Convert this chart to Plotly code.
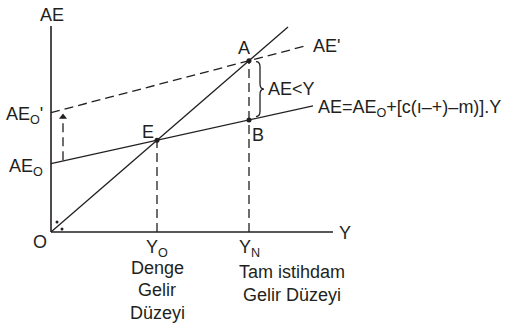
import plotly.graph_objects as go

# ---- data (model units; 45-degree line is AE = Y) ----
Y_O = 53.0          # equilibrium income
Y_N = 99.0          # full-employment income
AE0 = 39.5          # autonomous expenditure
AE0_new = 69.0      # shifted autonomous expenditure
slope_AE = 0.255
slope_AE_new = 0.303
x_end_AE = 131.0
x_end_AE_new = 128.5
x_end_45 = 118.5
x_axis_end = 141.0
y_axis_end = 119.0

# lines defined by their end points
line45_x = [0, x_end_45]
line45_y = [0, x_end_45]
lineAE_x = [0, x_end_AE]
lineAE_y = [AE0, AE0 + slope_AE * x_end_AE]
lineAEn_x = [0, x_end_AE_new]
lineAEn_y = [AE0_new, AE0_new + slope_AE_new * x_end_AE_new]

E_pt = (Y_O, AE0 + slope_AE * Y_O)
A_pt = (Y_N, AE0_new + slope_AE_new * Y_N)
B_pt = (Y_N, AE0 + slope_AE * Y_N)

INK = "#231f20"
FONT = dict(family="Liberation Sans, Arial, sans-serif", size=18, color=INK)
DASH = "9px,5px"

fig = go.Figure()

def line(xs, ys, dash="solid", width=1.3):
    fig.add_trace(go.Scatter(x=xs, y=ys, mode="lines",
                             line=dict(color=INK, width=width, dash=dash),
                             hoverinfo="skip", showlegend=False))

# axes
line([0, 0], [0, y_axis_end], width=1.6)
line([0, x_axis_end], [0, 0], width=1.6)
# curves
line(line45_x, line45_y)
line(lineAE_x, lineAE_y)
line(lineAEn_x, lineAEn_y, dash=DASH)
# vertical guides
line([Y_O, Y_O], [0, E_pt[1]], dash=DASH)
line([Y_N, Y_N], [0, A_pt[1]], dash=DASH)
# shift arrow
arrow_x = 6.0
line([arrow_x, arrow_x], [AE0 + 2.0, AE0_new - 3.0], dash=DASH)
fig.add_trace(go.Scatter(x=[arrow_x], y=[AE0_new - 2.5], mode="markers",
                         marker=dict(symbol="triangle-up", size=7, color=INK),
                         hoverinfo="skip", showlegend=False))
# points
fig.add_trace(go.Scatter(x=[E_pt[0], A_pt[0], B_pt[0]], y=[E_pt[1], A_pt[1], B_pt[1]],
                         mode="markers", marker=dict(size=5, color=INK),
                         hoverinfo="skip", showlegend=False))
# small dots near origin
fig.add_trace(go.Scatter(x=[3.0, 5.5], y=[5.8, 1.7], mode="markers",
                         marker=dict(size=3, color=INK),
                         hoverinfo="skip", showlegend=False))

# brace between A and B
bx = Y_N + 3.5
bw = 2.0
ya, yb = A_pt[1] - 0.5, B_pt[1] + 2.0
ym = (ya + yb) / 2
r = 3.0
path = (f"M {bx},{ya} Q {bx+bw},{ya} {bx+bw},{ya-r} L {bx+bw},{ym+r} "
        f"Q {bx+bw},{ym} {bx+2*bw},{ym} Q {bx+bw},{ym} {bx+bw},{ym-r} "
        f"L {bx+bw},{yb+r} Q {bx+bw},{yb} {bx},{yb}")
fig.add_shape(type="path", path=path, xref="x", yref="y",
              line=dict(color=INK, width=1.3))

def label(x, y, text, xanchor="center", yanchor="middle"):
    fig.add_annotation(x=x, y=y, text=text, showarrow=False, xref="x", yref="y",
                       xanchor=xanchor, yanchor=yanchor, font=FONT)

label(0.5, 125.5, "AE")
label(-3.0, AE0_new - 1.5, "AE<sub>O</sub>'", xanchor="right")
label(-3.0, AE0 - 2.0, "AE<sub>O</sub>", xanchor="right")
label(E_pt[0] - 4.5, E_pt[1] + 4.5, "E")
label(A_pt[0] - 2.5, A_pt[1] + 7.5, "A")
label(x_end_AE_new + 1.5, lineAEn_y[1] - 0.5, "AE'", xanchor="left")
label(B_pt[0] + 0.5, B_pt[1] - 8.5, "B", xanchor="left")
label(bx + 2*bw + 1.0, ym, "AE&lt;Y", xanchor="left")
label(x_end_AE + 1.5, lineAE_y[1] - 1.5, "AE=AE<sub>O</sub>+[c(ı–+)–m)].Y", xanchor="left")
label(-5.5, -5.8, "O")
label(x_axis_end + 6, -0.6, "Y")
label(Y_O, -9.8, "Y<sub>O</sub>")
label(Y_O, -21.0, "Denge")
label(Y_O, -33.5, "Gelir")
label(Y_O, -46.8, "Düzeyi")
label(Y_N, -9.8, "Y<sub>N</sub>")
label(Y_N + 21.5, -23.1, "Tam istihdam")
label(Y_N + 21.5, -36.4, "Gelir Düzeyi")

fig.update_xaxes(range=[-25.5, 233.0], visible=False, fixedrange=True)
fig.update_yaxes(range=[-56.07, 134.1], visible=False, fixedrange=True)
fig.update_layout(width=517, height=329, margin=dict(l=0, r=0, t=0, b=0),
                  plot_bgcolor="white", paper_bgcolor="white", showlegend=False)

fig.write_html("out.html", config={"displayModeBar": False},
               post_script="document.body.style.margin='0';")
